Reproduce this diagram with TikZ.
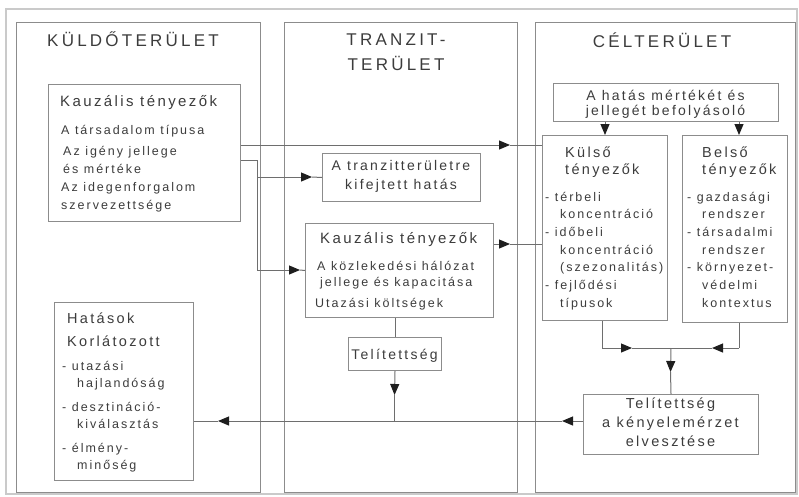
\documentclass[tikz,border=0pt]{standalone}
\usepackage{fontspec}
\setmainfont{Liberation Sans}
\newfontfamily\lsf[LetterSpace=16]{Liberation Sans}
\newfontfamily\tsf[LetterSpace=19]{Liberation Sans}
\usetikzlibrary{arrows.meta}
\definecolor{txtc}{HTML}{3C3C3C}
\definecolor{boxc}{HTML}{8C8C8C}
\definecolor{panc}{HTML}{8C8C8C}
\definecolor{framec}{HTML}{CACACA}
\definecolor{lnc}{HTML}{6E6E6E}
\definecolor{arrc}{HTML}{1E1E1E}
\newcommand\ind{\hspace*{15pt}}
\begin{document}
\begin{tikzpicture}[x=1pt,y=-1pt,
  box/.style={draw=boxc, line width=1pt, inner sep=0pt, anchor=north west},
  pan/.style={draw=panc, line width=1.3pt, inner sep=0pt, anchor=north west},
  ln/.style={draw=lnc, line width=1pt},
  arr/.style={ln, -{Triangle[length=11pt,width=9pt,color=arrc]}},
  tx/.style={anchor=base west, inner sep=0pt, align=left, text=txtc, font=\lsf\fontsize{12.5}{17.7}\selectfont},
  hd/.style={tx, font=\lsf\fontsize{15}{18}\selectfont},
  ctx/.style={anchor=base, inner sep=0pt, align=center, text=txtc, font=\lsf\fontsize{14}{19}\selectfont},
  ttl/.style={anchor=base, inner sep=0pt, align=center, text=txtc, font=\tsf\fontsize{17}{23.5}\selectfont}
]
\useasboundingbox (0,0) rectangle (799,496);
\draw[framec, line width=1.5pt] (6,9) rectangle (797,494);

% panels (multi-line nodes are placed at the baseline of their last line)
\node[pan, minimum width=244pt, minimum height=470pt] (p1) at (16,22) {};
\node[pan, minimum width=233pt, minimum height=470pt] (p2) at (284,22) {};
\node[pan, minimum width=260pt, minimum height=470pt] (p3) at (535,22) {};
\node[ttl] (t1) at (133,46) {KÜLDŐTERÜLET};
\node[ttl] (t2) at (396,70) {TRANZIT-\\[1.5pt]TERÜLET};
\node[ttl] (t3) at (662,47) {CÉLTERÜLET};

% left panel
\node[box, minimum width=192pt, minimum height=137pt] (kl) at (48,84) {};
\node[hd] (klh) at (60,106) {Kauzális tényezők};
\node[tx, font=\lsf\fontsize{12.5}{18}\selectfont] (klb) at (61,209) {A társadalom típusa\\[2.5pt]\hspace*{2pt}Az igény jellege\\\hspace*{2pt}és mértéke\\Az idegenforgalom\\szervezettsége};

\node[box, minimum width=139pt, minimum height=178pt] (hat) at (54,302) {};
\node[tx, font=\lsf\fontsize{14.5}{23}\selectfont] (hath) at (67,346) {Hatások\\Korlátozott};
\node[tx, font=\lsf\fontsize{12.5}{17}\selectfont] (hatb) at (62,469) {- utazási\\\ind hajlandóság\\[7pt]- desztináció-\\\ind kiválasztás\\[7pt]- élmény-\\\ind minőség};

% middle panel
\node[box, minimum width=158pt, minimum height=48pt] (tz) at (322,153) {};
\node[ctx] (tzt) at (401,189) {A tranzitterületre\\kifejtett hatás};

\node[box, minimum width=188pt, minimum height=94pt] (mk) at (305,223) {};
\node[hd] (mkh) at (320,243) {Kauzális tényezők};
\node[tx, font=\lsf\fontsize{12.5}{16.5}\selectfont] (mkb) at (317,307) {A közlekedési hálózat\\\hspace*{3pt}jellege és kapacitása\\[4pt]\hspace*{-2pt}Utazási költségek};

\node[box, minimum width=93pt, minimum height=33pt] (tel) at (348,337) {};
\node[ctx] (telt) at (394.5,359) {Telítettség};

% right panel
\node[box, minimum width=225pt, minimum height=38pt] (hb) at (553,83) {};
\node[ctx, font=\lsf\fontsize{14}{15.5}\selectfont] (hbt) at (665.5,115.5) {A hatás mértékét és\\jellegét befolyásoló};

\node[box, minimum width=125pt, minimum height=185pt] (ku) at (542,135) {};
\node[tx, font=\lsf\fontsize{14.5}{17}\selectfont] (kuh) at (565,174) {Külső\\tényezők};
\node[tx] (kub) at (545,307.2) {- térbeli\\\ind koncentráció\\- időbeli\\\ind koncentráció\\\ind (szezonalitás)\\- fejlődési\\\ind típusok};

\node[box, minimum width=105pt, minimum height=187pt] (be) at (682,135) {};
\node[tx, font=\lsf\fontsize{14.5}{17}\selectfont] (beh) at (702,174) {Belső\\tényezők};
\node[tx] (beb) at (687,307.2) {- gazdasági\\\ind rendszer\\- társadalmi\\\ind rendszer\\- környezet-\\\ind védelmi\\\ind kontextus};

\node[box, minimum width=175pt, minimum height=60pt] (ct) at (583,394) {};
\node[ctx, font=\lsf\fontsize{14.5}{19}\selectfont] (ctt) at (670.5,446) {Telítettség\\a kényelemérzet\\elvesztése};

% connectors: left -> right
\coordinate (m1) at (510,145);
\draw[arr] (kl.east |- m1) -- (m1);
\draw[ln] (m1) -- (ku.west |- m1);
\coordinate (j1) at (257,160);
\coordinate (j2) at (257,177);
\coordinate (j3) at (257,270);
\coordinate (m2) at (312,177);
\coordinate (m3) at (300,270);
\draw[ln] (kl.east |- j1) -- (j1) -- (j3);
\draw[arr] (j3) -- (m3);
\draw[ln] (m3) -- (mk.west);
\draw[arr] (j2) -- (m2);
\draw[ln] (m2) -- (tz.west);
\coordinate (m4) at (510,244);
\draw[arr] (mk.east |- m4) -- (m4);
\draw[ln] (m4) -- (ku.west |- m4);

% middle vertical
\draw[ln] (tel.north |- mk.south) -- (tel.north);
\coordinate (m5) at (394.5,395);
\coordinate (j4) at (394.5,421);
\draw[arr] (tel.south) -- (m5);
\draw[ln] (m5) -- (j4);

% bottom horizontal
\coordinate (m6) at (562,421);
\coordinate (m7) at (218,421);
\draw[arr] (ct.west |- m6) -- (m6);
\draw[arr] (m6) -- (m7);
\draw[ln] (m7) -- (hat.east |- m7);

% right panel connectors
\draw[arr] (ku.north |- hb.south) -- (ku.north);
\coordinate (bx) at (739,0);
\draw[arr] (bx |- hb.south) -- (bx |- be.north);
\coordinate (j5) at (602,348);
\coordinate (j6) at (739,348);
\coordinate (j7) at (ct.north |- j5);
\coordinate (m8) at (632,348);
\coordinate (m9) at (712,348);
\coordinate (m10) at (670.5,372);
\draw[ln] (j5 |- ku.south) -- (j5);
\draw[arr] (j5) -- (m8);
\draw[ln] (m8) -- (j7);
\draw[ln] (j6 |- be.south) -- (j6);
\draw[arr] (j6) -- (m9);
\draw[ln] (m9) -- (j7);
\draw[arr] (j7) -- (m10);
\draw[ln] (m10) -- (ct.north);
\end{tikzpicture}
\end{document}
